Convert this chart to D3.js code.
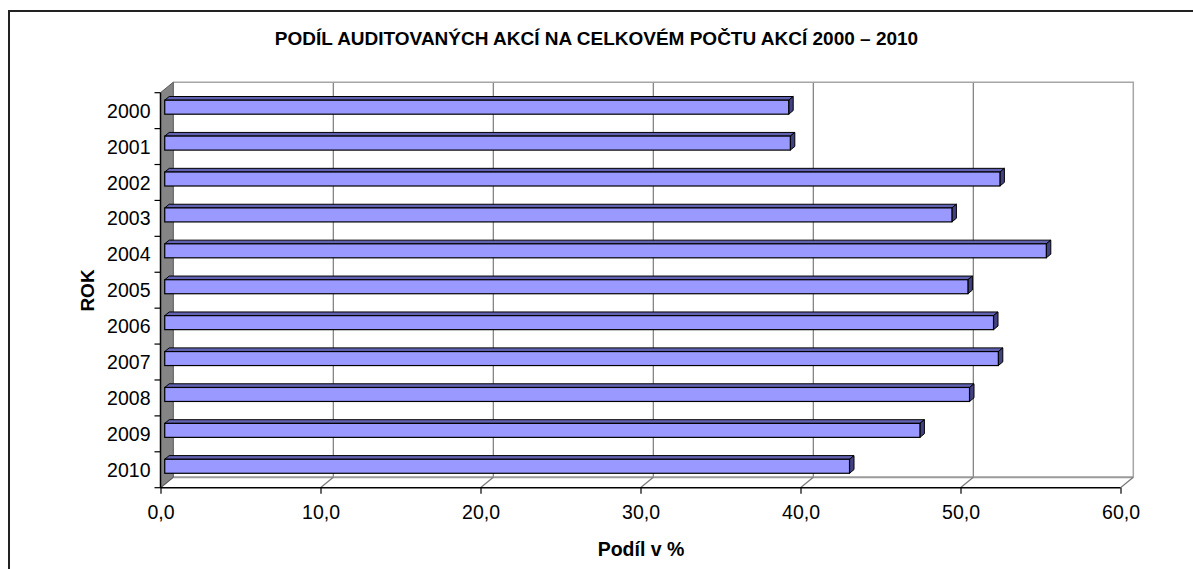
<!DOCTYPE html>
<html>
<head>
<meta charset="utf-8">
<script src="https://cdn.jsdelivr.net/npm/d3@7"></script>
<style>
  html, body { margin: 0; padding: 0; background: #fff; }
  svg { display: block; font-family: "Liberation Sans", Arial, sans-serif; }
</style>
</head>
<body>
<svg id="chart" width="1193" height="569"></svg>
<script>
// ---- data ----
const years = ["2000","2001","2002","2003","2004","2005","2006","2007","2008","2009","2010"];
const shares = [39.0, 39.1, 52.2, 49.2, 55.1, 50.2, 51.8, 52.1, 50.3, 47.2, 42.8];
const xTicks = [0, 10, 20, 30, 40, 50, 60];
const title = "PODÍL AUDITOVANÝCH AKCÍ NA CELKOVÉM POČTU AKCÍ 2000 – 2010";
const xTitle = "Podíl v %";
const yTitle = "ROK";

// ---- layout ----
const svg = d3.select("#chart");
const X0 = 160.5, X1 = 1120.5, YT = 92.7, YB = 487.7;
const DX = 12.8, DY = -10.5;          // 3D depth offset
const F0 = 0.33, F1 = 0.68;           // bar depth range (fraction)
const HALF = 7;                        // half bar height

const x = d3.scaleLinear().domain([0, 60]).range([X0, X1]);
const y = d3.scaleBand().domain(years).range([YT, YB]);
const locale = d3.formatLocale({decimal: ",", thousands: " ", grouping: [3], currency: ["", " Kč"]});
const fmt = locale.format(".1f");

// chart border
svg.append("rect").attr("x", 9).attr("y", 11).attr("width", 1400).attr("height", 800)
  .attr("fill", "none").attr("stroke", "#222").attr("stroke-width", 2);

// title
svg.append("text").attr("x", 596.5).attr("y", 44.5).attr("text-anchor", "middle")
  .attr("font-size", 19).attr("font-weight", "bold").text(title);

// back wall
const wall = svg.append("g");
wall.append("rect").attr("x", X0 + DX).attr("y", YT + DY)
  .attr("width", X1 - X0).attr("height", YB - YT).attr("fill", "#fff");
wall.selectAll("line.grid").data(xTicks.filter(t => t > 0 && t < 60)).join("line")
  .attr("x1", d => x(d) + DX).attr("x2", d => x(d) + DX)
  .attr("y1", YT + DY).attr("y2", YB + DY)
  .attr("stroke", "#7a7a7a").attr("stroke-width", 1.2);
wall.append("path")
  .attr("d", `M${X0 + DX},${YT + DY}H${X1 + DX}V${YB + DY}`)
  .attr("fill", "none").attr("stroke", "#a6a6a6").attr("stroke-width", 1.5);
wall.append("line").attr("x1", X0 + DX).attr("x2", X1 + DX)
  .attr("y1", YB + DY).attr("y2", YB + DY).attr("stroke", "#9a9a9a").attr("stroke-width", 2);
wall.selectAll("line.diag").data(xTicks).join("line")
  .attr("x1", d => x(d)).attr("y1", YB)
  .attr("x2", d => x(d) + DX).attr("y2", YB + DY)
  .attr("stroke", "#777").attr("stroke-width", 1.2);

// left wall
svg.append("polygon")
  .attr("points", [[X0, YT], [X0 + DX, YT + DY], [X0 + DX, YB + DY], [X0, YB]].map(p => p.join(",")).join(" "))
  .attr("fill", "#858585").attr("stroke", "#555").attr("stroke-width", 1);

// bars
const bars = svg.append("g");
const ox0 = F0 * DX, oy0 = F0 * DY, ox1 = F1 * DX, oy1 = F1 * DY;
years.forEach((yr, i) => {
  const v = shares[i];
  const yc = y(yr) + y.bandwidth() / 2;
  const t = yc - HALF, b = yc + HALF;
  const xa = x(0), xb = x(v);
  const g = bars.append("g");
  g.append("polygon")
    .attr("points", [[xa + ox0, t + oy0], [xb + ox0, t + oy0], [xb + ox1, t + oy1], [xa + ox1, t + oy1]].map(p => p.join(",")).join(" "))
    .attr("fill", "#6262b3").attr("stroke", "#000").attr("stroke-width", 1).attr("stroke-linejoin", "round");
  g.append("polygon")
    .attr("points", [[xb + ox0, t + oy0], [xb + ox1, t + oy1], [xb + ox1, b + oy1], [xb + ox0, b + oy0]].map(p => p.join(",")).join(" "))
    .attr("fill", "#424282").attr("stroke", "#000").attr("stroke-width", 1).attr("stroke-linejoin", "round");
  g.append("rect")
    .attr("x", xa + ox0).attr("y", t + oy0).attr("width", xb - xa).attr("height", b - t)
    .attr("fill", "#9999ff").attr("stroke", "#000").attr("stroke-width", 1.2);
});

// x axis
const xAxis = svg.append("g").attr("transform", `translate(0,${YB})`)
  .call(d3.axisBottom(x).tickValues(xTicks).tickFormat(fmt).tickSize(6).tickPadding(6));
xAxis.select(".domain").attr("d", `M${X0},0H${X1}`).attr("stroke", "#000").attr("stroke-width", 1.5);
xAxis.selectAll(".tick line").attr("stroke", "#000").attr("stroke-width", 1.2);
xAxis.selectAll(".tick text").attr("font-size", 19.5).attr("fill", "#000")
  .attr("font-family", "Liberation Sans, Arial, sans-serif").attr("dy", null).attr("y", 31);

// y axis: ticks at band boundaries, labels at band centers
const yAxis = svg.append("g").attr("transform", `translate(${X0},0)`)
  .call(d3.axisLeft(y).tickSize(0).tickPadding(10));
yAxis.select(".domain").attr("d", `M0,${YT}V${YB}`).attr("stroke", "#000").attr("stroke-width", 1.5);
yAxis.selectAll(".tick text").attr("font-size", 19.5).attr("fill", "#000")
  .attr("font-family", "Liberation Sans, Arial, sans-serif").attr("dy", "0.36em").attr("x", -10);
const bounds = years.map(yr => y(yr)).concat([YB]);
yAxis.selectAll("line.bt").data(bounds).join("line")
  .attr("x1", -6).attr("x2", 0).attr("y1", d => d).attr("y2", d => d)
  .attr("stroke", "#000").attr("stroke-width", 1.2);

// axis titles
svg.append("text").attr("x", 641).attr("y", 556).attr("text-anchor", "middle")
  .attr("font-size", 19.5).attr("font-weight", "bold").text(xTitle);
svg.append("text").attr("transform", "translate(93.5,290.5) rotate(-90)").attr("text-anchor", "middle")
  .attr("font-size", 19).attr("font-weight", "bold").text(yTitle);
</script>
</body>
</html>
